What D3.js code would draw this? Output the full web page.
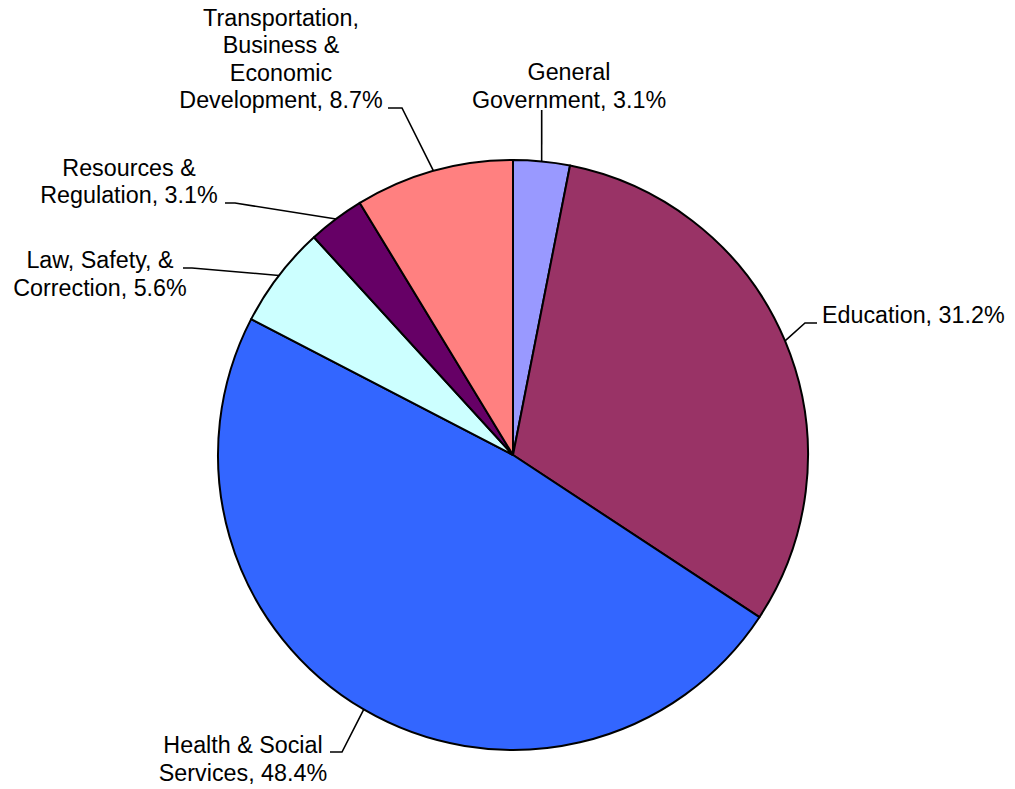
<!DOCTYPE html>
<html><head><meta charset="utf-8">
<script src="https://cdn.jsdelivr.net/npm/d3@7"></script>
<style>html,body{margin:0;padding:0;background:#fff;}svg{display:block;}</style>
</head><body>
<svg id="chart" width="1015" height="789"></svg>
<script>
// Data
const categories = ["General Government", "Education", "Health & Social Services", "Law, Safety, & Correction", "Resources & Regulation", "Transportation, Business & Economic Development"];
const values = [3.1, 31.2, 48.4, 5.6, 3.1, 8.7];
const labelLines = [
  ["General", "Government, 3.1%"],
  ["Education, 31.2%"],
  ["Health & Social", "Services, 48.4%"],
  ["Law, Safety, &", "Correction, 5.6%"],
  ["Resources &", "Regulation, 3.1%"],
  ["Transportation,", "Business &", "Economic", "Development, 8.7%"]
];
const colors = ["#9999FF", "#993366", "#3366FF", "#CCFFFF", "#660066", "#FF8080"];

// Layout (label placement, not data)
const W = 1015, H = 789;
const cx = 513, cy = 455, R = 295;
const fontSize = 23.3, lineH = 27.5;
// tx: text x, anchor, lastBaseline: baseline of line nearest leader, elbow & end of leader
const labelLayout = [
  {tx: 569, anchor: "middle", firstBaseline: 80, elbow: null, end: [541.7, 110]},
  {tx: 822, anchor: "start", firstBaseline: 323, elbow: [805, 323], end: [817, 323]},
  {tx: 243, anchor: "middle", firstBaseline: 753, elbow: [342, 752], end: [330, 752]},
  {tx: 100, anchor: "middle", firstBaseline: 268, elbow: [192, 268], end: [183, 268]},
  {tx: 129, anchor: "middle", firstBaseline: 175.5, elbow: [235, 203], end: [225, 203]},
  {tx: 281, anchor: "middle", firstBaseline: 25.5, elbow: [402, 108], end: [388, 108]}
];

const svg = d3.select("#chart");
const g = svg.append("g").attr("transform", `translate(${cx},${cy})`);

const pie = d3.pie().sort(null).value(d => d)(values);
const arc = d3.arc().innerRadius(0).outerRadius(R);

g.selectAll("path.slice").data(pie).join("path")
  .attr("class", "slice")
  .attr("d", arc)
  .attr("fill", (d, i) => colors[i])
  .attr("stroke", "#000")
  .attr("stroke-width", 2)
  .attr("stroke-linejoin", "round");

// leader lines
pie.forEach((d, i) => {
  const a = (d.startAngle + d.endAngle) / 2;
  const p0 = [cx + R * Math.sin(a), cy - R * Math.cos(a)];
  const L = labelLayout[i];
  const pts = [p0];
  if (L.elbow) pts.push(L.elbow);
  pts.push(L.end);
  svg.append("path")
    .attr("d", d3.line()(pts))
    .attr("fill", "none")
    .attr("stroke", "#000")
    .attr("stroke-width", 1.6);
});

// labels
labelLines.forEach((lines, i) => {
  const L = labelLayout[i];
  const t = svg.append("text")
    .attr("font-family", "'Liberation Sans', Arial, sans-serif")
    .attr("font-size", fontSize)
    .attr("fill", "#000")
    .attr("text-anchor", L.anchor);
  lines.forEach((ln, j) => {
    t.append("tspan").attr("x", L.tx).attr("y", L.firstBaseline + j * lineH).text(ln);
  });
});
</script>
</body></html>
